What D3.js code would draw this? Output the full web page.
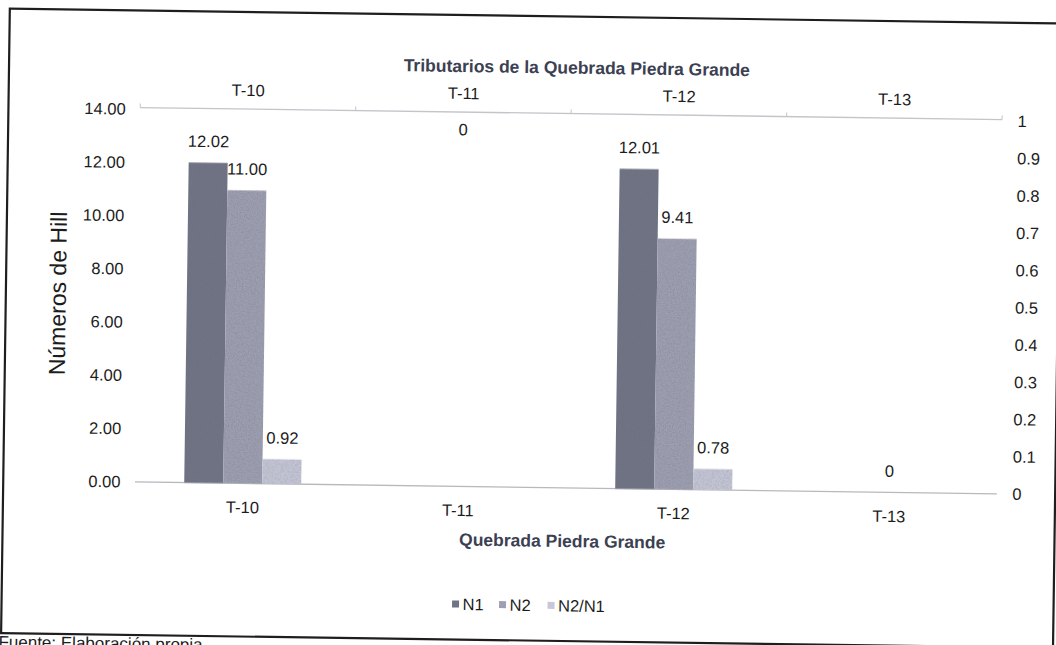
<!DOCTYPE html>
<html>
<head>
<meta charset="utf-8">
<script src="https://cdn.jsdelivr.net/npm/d3@7"></script>
<style>
  html, body { margin: 0; padding: 0; background: #ffffff; }
  svg { display: block; }
  text { font-family: "Liberation Sans", Arial, sans-serif; }
</style>
</head>
<body>
<svg id="chart" width="1056" height="645"></svg>
<script>
// Hill numbers per tributary of Quebrada Piedra Grande
const categories = ["T-10", "T-11", "T-12", "T-13"];
const seriesNames = ["N1", "N2", "N2/N1"];
const n1Values = [12.02, 0, 12.01, 0];
const n2Values = [11.00, 0, 9.41, 0];
const ratioValues = [0.92, 0, 0.78, 0];
const leftTicks = [0, 2, 4, 6, 8, 10, 12, 14];
const rightTicks = [0, 0.1, 0.2, 0.3, 0.4, 0.5, 0.6, 0.7, 0.8, 0.9, 1];
// "0" labels of the secondary series (category, level on the main axis)
const zeroLabelCats = ["T-11", "T-13"];
const zeroLabelLevels = [13.4, 0.8];

const seriesColors = ["#6f7384", "#9ea0b2", "#c6c8d8"];
const textColor = "#1c1c1c";
const titleColor = "#3b4052";

const svg = d3.select("#chart");

// printed-paper grain for the bar fills
const defs = svg.append("defs");
const grain = defs.append("filter").attr("id", "grain")
  .attr("x", 0).attr("y", 0).attr("width", "100%").attr("height", "100%");
grain.append("feTurbulence").attr("type", "fractalNoise")
  .attr("baseFrequency", 0.85).attr("numOctaves", 2).attr("seed", 4).attr("result", "noise");
grain.append("feColorMatrix").attr("in", "noise").attr("type", "matrix")
  .attr("values", "0 0 0 0 0.15  0 0 0 0 0.15  0 0 0 0 0.2  0.9 0 0 0 -0.32")
  .attr("result", "specks");
grain.append("feComposite").attr("in", "specks").attr("in2", "SourceGraphic")
  .attr("operator", "in").attr("result", "clipped");
const merge = grain.append("feMerge");
merge.append("feMergeNode").attr("in", "SourceGraphic");
merge.append("feMergeNode").attr("in", "clipped");

const root = svg.append("g").attr("transform", "rotate(0.8, 528, 322)");

// outer frame
root.append("rect")
  .attr("x", 5.5).attr("y", 16)
  .attr("width", 1052).attr("height", 624.5)
  .attr("fill", "none").attr("stroke", "#1e1e1e").attr("stroke-width", 2.2);

const plotLeft = 137.25, plotRight = 999.25;
const yTop = 114.5, yBase = 487.3;

const x0 = d3.scaleBand().domain(categories)
  .range([plotLeft, plotRight]).paddingInner(0.457).paddingOuter(0.2285);
const x1 = d3.scaleBand().domain(seriesNames).range([0, x0.bandwidth()]);
const y = d3.scaleLinear().domain([0, 14]).range([yBase, yTop]);
const yR = d3.scaleLinear().domain([0, 1]).range([yBase, yTop]);

const rows = categories.map((c, i) => ({
  cat: c,
  vals: [n1Values[i], n2Values[i], ratioValues[i]]
}));

// axis lines
root.append("line")
  .attr("x1", plotLeft).attr("x2", plotRight)
  .attr("y1", yBase).attr("y2", yBase)
  .attr("stroke", "#b8b8bf").attr("stroke-width", 1.3);
root.append("line")
  .attr("x1", plotLeft).attr("x2", plotRight)
  .attr("y1", y(14) - 1.5).attr("y2", y(14) - 1.5)
  .attr("stroke", "#c4c4cb").attr("stroke-width", 1.3);
// category boundary ticks on the top axis
const bounds = d3.range(categories.length + 1).map(i => plotLeft + i * x0.step());
root.selectAll("line.topTick").data(bounds).join("line")
  .attr("class", "topTick")
  .attr("x1", d => d).attr("x2", d => d)
  .attr("y1", y(14) - 1.5).attr("y2", y(14) - 5.5)
  .attr("stroke", "#c4c4cb").attr("stroke-width", 1);

// bars
const groups = root.selectAll("g.cat").data(rows).join("g")
  .attr("class", "cat")
  .attr("transform", d => `translate(${x0(d.cat)},0)`);

groups.selectAll("rect").data(d => d.vals.map((v, k) => ({ v, k })))
  .join("rect")
  .attr("x", d => x1(seriesNames[d.k]))
  .attr("width", x1.bandwidth())
  .attr("y", d => y(d.v))
  .attr("height", d => yBase - y(d.v))
  .attr("fill", d => seriesColors[d.k])
  .attr("filter", "url(#grain)");

// value labels
groups.selectAll("text.val").data(d => d.vals.map((v, k) => ({ v, k })).filter(e => e.v > 0))
  .join("text")
  .attr("class", "val")
  .attr("x", d => x1(seriesNames[d.k]) + x1.bandwidth() / 2)
  .attr("y", d => y(d.v) - 15.7)
  .attr("text-anchor", "middle")
  .attr("font-size", "16.5px")
  .attr("fill", textColor)
  .text(d => d.v.toFixed(2));

root.selectAll("text.zero").data(zeroLabelCats).join("text")
  .attr("class", "zero")
  .attr("x", d => x0(d) + x0.bandwidth() / 2)
  .attr("y", (d, i) => y(zeroLabelLevels[i]) + 5.8)
  .attr("text-anchor", "middle")
  .attr("font-size", "16.5px")
  .attr("fill", textColor)
  .text("0");

// left axis
const gLeft = root.append("g")
  .attr("transform", `translate(${plotLeft},0)`)
  .call(d3.axisLeft(y).tickValues(leftTicks).tickFormat(d3.format(".2f")).tickSize(0).tickPadding(14.5));
gLeft.select(".domain").remove();
gLeft.selectAll("text").attr("font-size", "16.5px").attr("fill", textColor)
  .attr("font-family", "Liberation Sans, Arial, sans-serif");

// right axis
const gRight = root.append("g")
  .attr("transform", `translate(${plotRight},0)`)
  .call(d3.axisRight(yR).tickValues(rightTicks).tickFormat(d => String(+d.toFixed(1))).tickSize(0).tickPadding(15.5));
gRight.select(".domain").remove();
gRight.selectAll("text").attr("font-size", "16.5px").attr("fill", textColor)
  .attr("font-family", "Liberation Sans, Arial, sans-serif");

// bottom category axis
const gBottom = root.append("g")
  .attr("transform", `translate(0,${yBase})`)
  .call(d3.axisBottom(x0).tickSize(0).tickPadding(18));
gBottom.select(".domain").remove();
gBottom.selectAll("text").attr("font-size", "16.5px").attr("fill", textColor)
  .attr("font-family", "Liberation Sans, Arial, sans-serif");

// top category axis
const gTop = root.append("g")
  .attr("transform", `translate(0,${y(14)})`)
  .call(d3.axisTop(x0).tickSize(0).tickPadding(14.5));
gTop.select(".domain").remove();
gTop.selectAll("text").attr("font-size", "16.5px").attr("fill", textColor)
  .attr("font-family", "Liberation Sans, Arial, sans-serif");

// titles
root.append("text")
  .attr("x", (plotLeft + plotRight) / 2 + 5).attr("y", 73)
  .attr("text-anchor", "middle")
  .attr("font-size", "17.5px").attr("font-weight", "bold")
  .attr("fill", titleColor)
  .text("Tributarios de la Quebrada Piedra Grande");

root.append("text")
  .attr("x", (plotLeft + plotRight) / 2 - 3).attr("y", 546.5)
  .attr("text-anchor", "middle")
  .attr("font-size", "17.5px").attr("font-weight", "bold")
  .attr("fill", titleColor)
  .text("Quebrada Piedra Grande");

root.append("text")
  .attr("transform", "translate(65.5,300) rotate(-90)")
  .attr("text-anchor", "middle")
  .attr("font-size", "23px")
  .attr("fill", textColor)
  .text("Números de Hill");

// legend
const legendX = [456, 503, 551.5];
const legend = root.append("g").attr("transform", "translate(0,605)");
const items = legend.selectAll("g").data(seriesNames).join("g")
  .attr("transform", (d, i) => `translate(${legendX[i]},0)`);
items.append("rect")
  .attr("x", 0).attr("y", -3.5).attr("width", 7).attr("height", 7)
  .attr("fill", (d, i) => seriesColors[i]);
items.append("text")
  .attr("x", 10.5).attr("y", 6)
  .attr("font-size", "16.5px")
  .attr("fill", textColor)
  .text(d => d);

// source note below the frame
root.append("text")
  .attr("x", 3).attr("y", 655)
  .attr("font-size", "17px")
  .attr("fill", textColor)
  .text("Fuente: Elaboración propia");
</script>
</body>
</html>
